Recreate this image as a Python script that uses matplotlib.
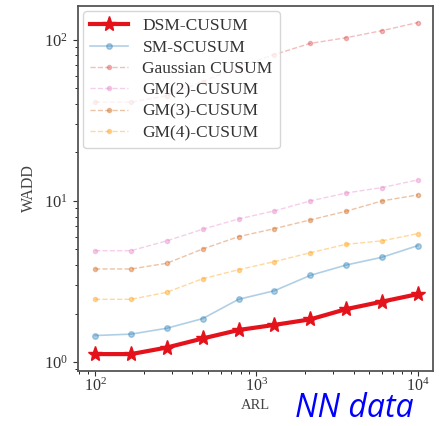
import numpy as np
import matplotlib
matplotlib.use("Agg")
import matplotlib.pyplot as plt

# -------------------------
# DATOS
# -------------------------
arl = [100, 167, 278, 464, 774, 1292, 2154, 3594, 5995, 10000]

dsm_cusum = [1.12, 1.12, 1.23, 1.40, 1.58, 1.70, 1.84, 2.13, 2.37, 2.64]
sm_scusum = [1.46, 1.49, 1.62, 1.86, 2.45, 2.77, 3.45, 4.00, 4.47, 5.28]
gauss_cusum = [41, 41, 45, 55, 68, 81, 95, 103, 114, 128]
gm2_cusum = [4.91, 4.91, 5.65, 6.67, 7.73, 8.67, 10.0, 11.2, 12.1, 13.5]
gm3_cusum = [3.78, 3.78, 4.10, 5.03, 6.00, 6.73, 7.62, 8.63, 10.0, 10.9]
gm4_cusum = [2.45, 2.45, 2.71, 3.29, 3.74, 4.20, 4.77, 5.38, 5.65, 6.27]

plt.rcParams['font.family'] = ['Liberation Serif', 'DejaVu Serif']
plt.rcParams['mathtext.fontset'] = 'stix'

fig = plt.figure(figsize=(4.44, 4.26), dpi=100)
ax = fig.add_axes([0.176, 0.129, 0.799, 0.857])

ax.plot(arl, dsm_cusum, '-*', color='#e3121b', linewidth=3, markersize=11,
        label='DSM-CUSUM', zorder=5)
ax.plot(arl, sm_scusum, '-o', color='#1f77b4', alpha=0.35, linewidth=1.2,
        markersize=4, label='SM-SCUSUM')
ax.plot(arl, gauss_cusum, '--o', color='#d62728', alpha=0.3, linewidth=1.0,
        markersize=3, label='Gaussian CUSUM')
ax.plot(arl, gm2_cusum, '--o', color='#e377c2', alpha=0.35, linewidth=1.0,
        markersize=3, label='GM(2)-CUSUM')
ax.plot(arl, gm3_cusum, '--o', color='#d2691e', alpha=0.4, linewidth=1.0,
        markersize=3, label='GM(3)-CUSUM')
ax.plot(arl, gm4_cusum, '--o', color='#ff9f0e', alpha=0.4, linewidth=1.0,
        markersize=3, label='GM(4)-CUSUM')

ax.set_xscale('log')
ax.set_yscale('log')
ax.set_xlim(10**1.895, 10**4.093)
ax.set_ylim(10**-0.056, 10**2.21)

ax.tick_params(labelsize=12, colors='#333333')
ax.tick_params(axis='x', labelsize=11.5, pad=1)
for s in ax.spines.values():
    s.set_color('#555555')
    s.set_linewidth(1.3)

ax.set_xlabel('ARL', fontsize=10.5, color='#444444', labelpad=3)
ax.set_ylabel('WADD', fontsize=11.5, color='#444444', labelpad=5)

ax.legend(loc='upper left', fontsize=12.5, handlelength=2.2,
          borderaxespad=0.3, labelspacing=0.3, handletextpad=0.8,
          labelcolor='#333333')

fig.text(295 / 444, 1 / 426, 'NN data', color='blue', fontsize=23,
         style='italic', family=['Open Sans', 'DejaVu Sans'], va='bottom')

fig.savefig('out.png', dpi=100)
